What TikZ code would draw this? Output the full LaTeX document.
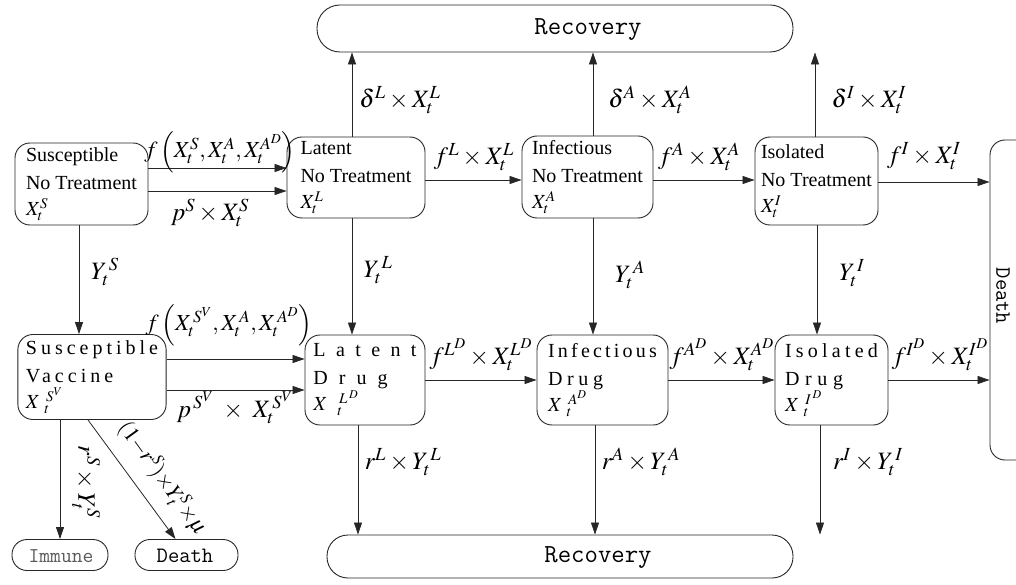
\documentclass[tikz,border=0pt]{standalone}
\usepackage{mathptmx}
\usepackage{fontspec}
\setmainfont{Liberation Serif}
\usetikzlibrary{arrows.meta,calc}
\newcommand{\LS}[2]{{\addfontfeatures{LetterSpace=#1}#2}}
\begin{document}
\begin{tikzpicture}[x=1pt,y=-1pt,
  line width=0.9pt, draw=black!85,
  box/.style={draw, rounded corners=15pt, align=left, inner xsep=8pt, inner ysep=0pt,
    font=\fontsize{20}{28}\selectfont},
  pill/.style={draw, rounded corners=#1, inner sep=0pt},
  sinktext/.style={inner sep=0pt, font=\ttfamily\fontsize{#1}{#1}\selectfont\addfontfeatures{LetterSpace=5}},
  rectext/.style={inner sep=0pt, font=\ttfamily\fontsize{26}{26}\selectfont\addfontfeatures{LetterSpace=12}},
  arr/.style={-{Triangle[length=12pt,width=8pt]}, line width=0.8pt},
  lab/.style={inner sep=0pt, font=\fontsize{25}{28}\selectfont},
]
\useasboundingbox (0,0) rectangle (1016,585);
\clip (0,0) rectangle (1016,585);

% compartments
\node[box, minimum width=133pt, minimum height=82pt] (snt) at (81.5,184)
  {Susceptible\\No Treatment\\[-2pt]$X_t^S$};
\node[box, minimum width=138pt, minimum height=81pt] (lnt) at (356,177.5)
  {Latent\\No Treatment\\[-2pt]$X_t^L$};
\node[box, minimum width=131pt, minimum height=82pt] (ant) at (587.5,177)
  {Infectious\\No Treatment\\[-2pt]$X_t^A$};
\node[box, inner xsep=3pt, minimum width=123pt, minimum height=88pt] (int) at (816.5,181)
  {Isolated\\No Treatment\\[-2pt]$X_t^I$};
\node[box, minimum width=142pt, minimum height=85pt] (sv) at (92,377)
  {\LS{20}{Susceptible}\\\LS{20}{Vaccine}\\[-2pt]$X\;_t^{\,S^V}$};
\node[box, minimum width=120pt, minimum height=90pt] (ld) at (365,380)
  {\LS{52}{Latent}\\\LS{55}{Drug}\\[-2pt]$X\ \ _t^{\,L\,^D}$};
\node[box, minimum width=131pt, minimum height=90pt] (ad) at (602.5,380)
  {\LS{16}{Infectious}\\\LS{23}{Drug}\\[-2pt]$X\;_t^{\,A^D}$};
\node[box, minimum width=113pt, minimum height=90pt] (id) at (831.5,380)
  {\LS{21}{Isolated}\\\LS{28}{Drug}\\[-2pt]$X\;_t^{\,I\,^D}$};

% sinks
\node[pill=23pt, minimum width=476pt, minimum height=47pt] (rtop) at (555,28.5) {};
\node[rectext] (rtoplbl) at (588,30) {Recovery};
\node[pill=21pt, minimum width=466pt, minimum height=43pt] (rbot) at (560,556.5) {};
\node[rectext] (rbotlbl) at (598,558) {Recovery};
\node[pill=15pt, minimum width=56pt, minimum height=320pt] (deathR) at (1018,300) {};
\node[sinktext=22, rotate=-90] (deathlbl) at (1003,296) {Death};
\node[pill=15pt, minimum width=96pt, minimum height=31pt] (immune) at (60,555) {};
\node[sinktext=21, text=black!65] (immunelbl) at (61,556) {Immune};
\node[pill=15pt, minimum width=103pt, minimum height=31pt] (deathS) at (186.5,555) {};
\node[sinktext=22] (deathSlbl) at (185,556) {Death};

% arrows top row
\draw[arr] (snt.east |- 0,168) -- (lnt.west |- 0,168);
\draw[arr] (snt.east |- 0,191) -- (lnt.west |- 0,191);
\draw[arr] (lnt.east |- 0,180) -- (ant.west |- 0,180);
\draw[arr] (ant.east |- 0,180) -- (int.west |- 0,180);
\draw[arr] (int.east |- 0,182) -- (deathR.west |- 0,182);

% up to recovery
\draw[arr] (lnt.north -| 352,0) -- (rtop.south -| 352,0);
\draw[arr] (ant.north -| 593,0) -- (rtop.south -| 593,0);
\draw[arr] (int.north -| 815,0) -- (rtop.south -| 815,0);

% down
\draw[arr] (snt.south -| 79,0) -- (sv.north -| 79,0);
\draw[arr] (lnt.south -| 352,0) -- (ld.north -| 352,0);
\draw[arr] (ant.south -| 593,0) -- (ad.north -| 593,0);
\draw[arr] (int.south -| 817,0) -- (id.north -| 817,0);

% bottom row
\draw[arr] (sv.east |- 0,359) -- (ld.west |- 0,359);
\draw[arr] (sv.east |- 0,390) -- (ld.west |- 0,390);
\draw[arr] (ld.east) -- (ad.west);
\draw[arr] (ad.east) -- (id.west);
\draw[arr] (id.east) -- (id.east -| deathR.west);

% down to recovery
\draw[arr] (ld.south -| 358,0) -- (rbot.north -| 358,0);
\draw[arr] (ad.south -| 595,0) -- (rbot.north -| 595,0);
\draw[arr] (id.south -| 820,0) -- (rbot.north -| 820,0);

% vaccine exits
\draw[arr] (sv.south -| immune.north) -- (immune.north);
\draw[arr] (sv.south -| 88,0) -- ($(deathS.north)+(-11,0)$);

% labels
\node[lab, font=\fontsize{23}{26}\selectfont] (l1) at (220,152) {$f\left(X_t^S, X_t^A, X_t^{A^D}\right)$};
\node[lab] (l2) at (210,213) {$p^S\times X_t^S$};
\node[lab] (l3) at (105,272) {$Y_t^{\,S}$};
\node[lab, font=\fontsize{23}{26}\selectfont] (l4) at (229,325) {$f\left(X_t^{\,S^V}, X_t^{\,A}, X_t^{\,A^D}\right)$};
\node[lab] (l5) at (235,408) {$p^{\,S^V}\ \times\ X_t^{\,S^V}$};
\node[lab] (l6) at (378,270) {$Y_t^{\,L}$};
\node[lab] (l7) at (630,275) {$Y_t^{\,A}$};
\node[lab] (l8) at (852,273) {$Y_t^{\,I}$};
\node[lab] (l9) at (400,100) {$\delta^L\times X_t^L$};
\node[lab] (l10) at (650,100) {$\delta^A\times X_t^A$};
\node[lab] (l11) at (869,100) {$\delta^I\times X_t^I$};
\node[lab] (l12) at (474,157) {$f^L\times X_t^L$};
\node[lab] (l13) at (699,157) {$f^A\times X_t^A$};
\node[lab] (l14) at (924,156) {$f^I\times X_t^I$};
\node[lab] (l15) at (481,355) {$f^{L^D}\times X_t^{L^D}$};
\node[lab] (l16) at (722,355) {$f^{A^D}\times X_t^{A^D}$};
\node[lab] (l17) at (940,355) {$f^{I^D}\times X_t^{I^D}$};
\node[lab] (l18) at (403,462) {$r^L\times Y_t^{\,L}$};
\node[lab] (l19) at (641,462) {$r^A\times Y_t^{\,A}$};
\node[lab] (l20) at (868,462) {$r^I\times Y_t^{\,I}$};
\node[lab, rotate=-90] (l21) at (86,482) {$r^S\times Y_t^S$};
\node[lab, rotate=-54, font=\fontsize{22}{24}\selectfont] (l22) at (163,478) {$(1{-}r^S){\times}Y_t^S{\times}\mu$};
\end{tikzpicture}
\end{document}
